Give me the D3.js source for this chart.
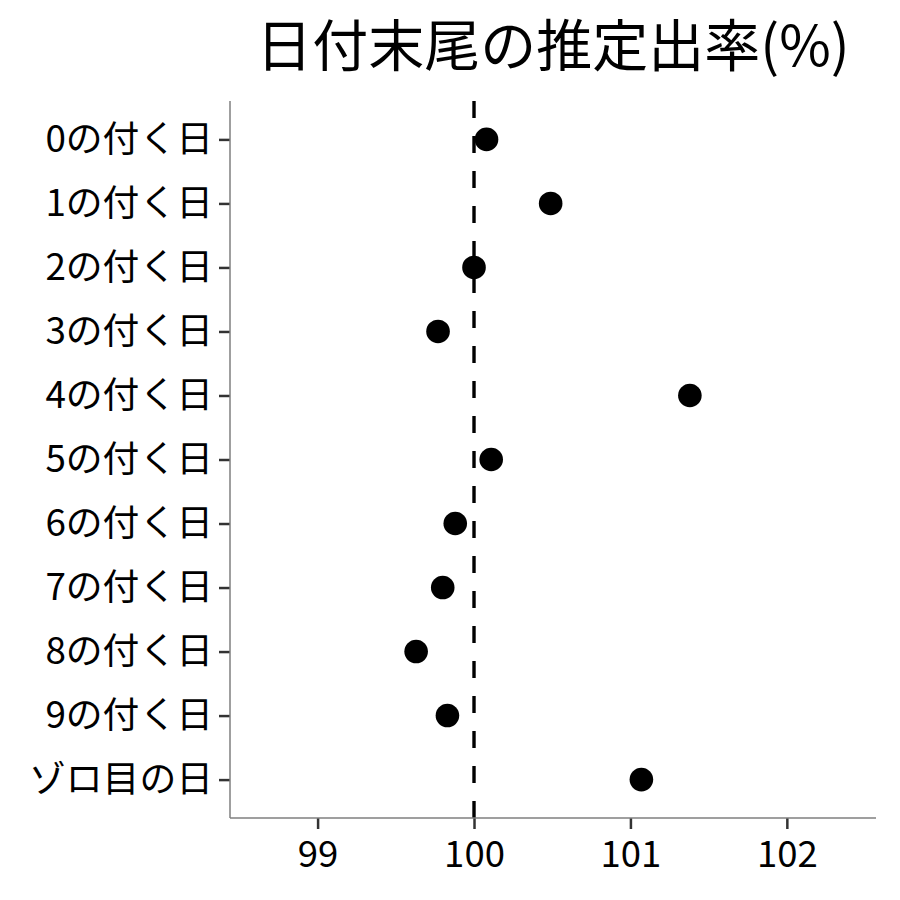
<!DOCTYPE html>
<html>
<head>
<meta charset="utf-8">
<script src="https://cdn.jsdelivr.net/npm/d3@7"></script>
<style>
  html, body { margin: 0; padding: 0; background: #fff; }
  svg { display: block; }
  text { font-family: "Noto Sans CJK JP", "Noto Sans", sans-serif; }
</style>
</head>
<body>
<svg id="chart" width="900" height="900"></svg>
<script>
const title = "日付末尾の推定出率(%)";
const categories = ["0の付く日","1の付く日","2の付く日","3の付く日","4の付く日","5の付く日","6の付く日","7の付く日","8の付く日","9の付く日","ゾロ目の日"];
const values = [100.08, 100.49, 100.00, 99.77, 101.38, 100.11, 99.88, 99.80, 99.63, 99.83, 101.07];
const xTicks = [99, 100, 101, 102];
const refValue = 100;

const svg = d3.select("#chart");
const pLeft = 230, pRight = 876, pTop = 101, pBottom = 818;

const x = d3.scaleLinear().domain([98.44, 102.57]).range([pLeft, pRight]);
const y = d3.scalePoint().domain(categories).range([pTop, pBottom]).padding(0.6);

// title
svg.append("text")
  .attr("x", (pLeft + pRight) / 2)
  .attr("y", 66)
  .attr("text-anchor", "middle")
  .attr("font-size", 56)
  .attr("fill", "#000")
  .text(title);

// reference line (drawn from bottom upward)
svg.append("line")
  .attr("x1", x(refValue)).attr("x2", x(refValue))
  .attr("y1", pBottom).attr("y2", pTop)
  .attr("stroke", "#000")
  .attr("stroke-width", 3.4)
  .attr("stroke-dasharray", "17,18");

// points
svg.append("g").selectAll("circle")
  .data(categories)
  .join("circle")
  .attr("cx", (d, i) => x(values[i]))
  .attr("cy", d => y(d))
  .attr("r", 11.8)
  .attr("fill", "#000");

// x axis
const xAxis = svg.append("g")
  .attr("transform", `translate(0,${pBottom})`)
  .call(d3.axisBottom(x).tickValues(xTicks).tickSize(11).tickPadding(12).tickFormat(d3.format("d")));
xAxis.select(".domain").remove();
xAxis.selectAll(".tick line").attr("stroke", "#333").attr("stroke-width", 2.5);
xAxis.selectAll(".tick text").attr("font-size", 36.5).attr("fill", "#000")
  .attr("font-family", '"Noto Sans CJK JP", sans-serif');
svg.append("line").attr("x1", pLeft).attr("x2", pRight).attr("y1", pBottom).attr("y2", pBottom)
  .attr("stroke", "#7f7f7f").attr("stroke-width", 1.5);

// y axis
const yAxis = svg.append("g")
  .attr("transform", `translate(${pLeft},0)`)
  .call(d3.axisLeft(y).tickSize(11).tickPadding(6));
yAxis.select(".domain").remove();
yAxis.selectAll(".tick line").attr("stroke", "#333").attr("stroke-width", 2.5);
yAxis.selectAll(".tick text").attr("font-size", 36.8).attr("fill", "#000")
  .attr("font-family", '"Noto Sans CJK JP", sans-serif');
svg.append("line").attr("x1", pLeft).attr("x2", pLeft).attr("y1", pTop).attr("y2", pBottom)
  .attr("stroke", "#7f7f7f").attr("stroke-width", 1.5);
</script>
</body>
</html>
